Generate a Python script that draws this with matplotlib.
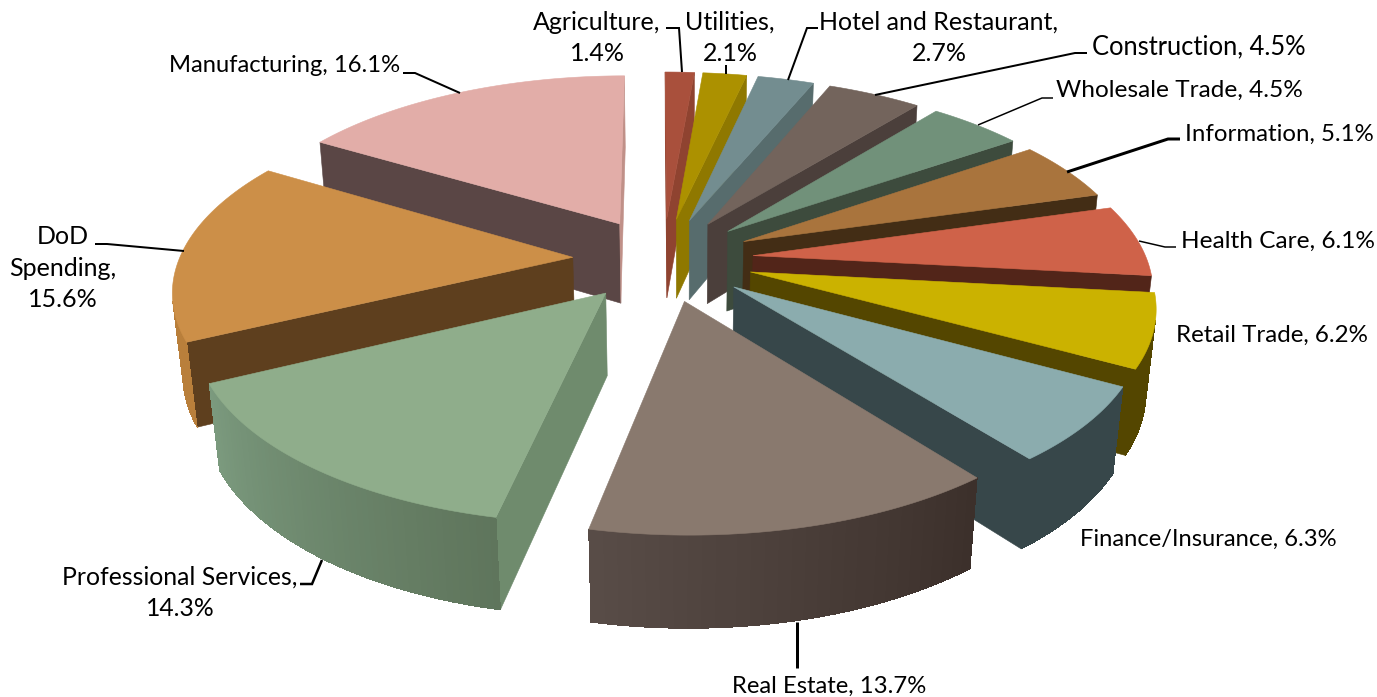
import numpy as np
import matplotlib
matplotlib.use('Agg')
import matplotlib.pyplot as plt
from matplotlib.colors import to_rgb
from matplotlib.patches import Polygon

plt.rcParams['font.family'] = ['Lato', 'DejaVu Sans']

labels = ['Agriculture,\n1.4%', 'Utilities,\n2.1%', 'Hotel and Restaurant,\n2.7%', 'Construction, 4.5%',
          'Wholesale Trade, 4.5%', 'Information, 5.1%', 'Health Care, 6.1%', 'Retail Trade, 6.2%',
          'Finance/Insurance, 6.3%', 'Real Estate, 13.7%', 'Professional Services,\n14.3%',
          'DoD\nSpending,\n15.6%', 'Manufacturing, 16.1%']
shares = [1.4, 2.1, 2.7, 4.5, 4.5, 5.1, 6.1, 6.2, 6.3, 13.7, 14.3, 15.6, 16.1]
top_colors = ['#A9503C', '#AC9100', '#738D90', '#73645C', '#71917A', '#A9743D', '#CF6249',
              '#CBB200', '#8BACAE', '#89796E', '#8FAD8B', '#CC8F48', '#E2ADA8']
cut_start = ['#8F4330', '#8F7800', '#576C6D', '#4B3F3B', '#3D4B3D', '#432D15', '#522519',
             '#544600', '#37474A', '#3C302B', '#6F8B6D', '#5E3F1E', '#5A4645']
cut_end = ['#8F4330', '#8F7800', '#576C6D', '#4B3F3B', '#3D4B3D', '#432D15', '#522519',
           '#544600', '#37474A', '#3C302B', '#6F8B6D', '#5E3F1E', '#C09088']
rim_start = ['#8F4330', '#8F7800', '#576C6D', '#4B3F3B', '#3D4B3D', '#432D15', '#522519',
             '#544600', '#37474A', '#3C302B', '#5F755C', '#B97F3B', '#C09088']
rim_end = ['#8F4330', '#8F7800', '#576C6D', '#4B3F3B', '#3D4B3D', '#432D15', '#522519',
           '#544600', '#37474A', '#584C47', '#7B9A7E', '#B97F3B', '#C09088']
draw_order = [0, 1, 2, 3, 4, 5, 6, 12, 11, 7, 8, 10, 9]

# where each label sits: x, y, alignment, size
label_x = [597, 730, 939, 1092, 1056, 1185, 1181, 1176, 1080, 732, 180, 63, 169]
label_y = [38, 38, 38, 47, 90, 134, 241, 335, 539, 686, 592.5, 268, 66]
label_ha = ['center', 'center', 'center', 'left', 'left', 'left', 'left', 'left', 'left', 'left',
            'center', 'center', 'left']
label_size = [18, 18, 18, 18.4, 17.6, 17.3, 17.6, 17.4, 17.1, 17.2, 17.8, 18, 17.1]
leaders = [([666, 679, 682], [28, 28, 72], 2), ([726, 726], [65, 74], 2),
           ([818, 807, 788], [28, 28, 80], 2), ([1087, 1075, 875], [53, 53, 95], 2),
           ([1053, 1042, 978], [98, 98, 125], 1.5), ([1180, 1168, 1067], [139, 139, 172], 3),
           ([1176, 1165, 1139], [247, 247, 241], 1.5), ([797, 797], [622, 668], 3),
           ([300, 312, 322], [584, 584, 560], 2.5), ([95, 107, 184], [244, 244, 251], 2),
           ([403, 415, 460], [73, 73, 93], 2)]

# plane -> picture projection, fitted to the reference corners
H = [388.961072, -120.612103, 663.091312, 5.790606, 140.680499, 259.181874, -0.006511, -0.158055]
Z = [13.911732, 88.014685, 0.020548]
explode = 0.23
rot = -0.04363


def project(u, v, z):
    d = H[6]*u + H[7]*v + 1 + Z[2]*z
    return (H[0]*u + H[1]*v + H[2] + Z[0]*z)/d, (H[3]*u + H[4]*v + H[5] + Z[1]*z)/d


def area(x, y):
    return np.sum(x*np.roll(y, -1) - np.roll(x, -1)*y)


def draw_wall(ax, us, vs, color, smooth=True):
    # us, vs run along the top edge of the wall
    x0, y0 = project(us, vs, 0)
    x1, y1 = project(us, vs, 1)
    xs = np.r_[x0, x1[::-1]]
    ys = np.r_[y0, y1[::-1]]
    if area(xs, ys) < 0:
        ax.add_patch(Polygon(np.c_[xs, ys], fc=color, ec=color, lw=0.4 if smooth else 0, antialiased=smooth))


def draw_slice(ax, i, edges):
    a0, a1 = edges[i] + rot, edges[i+1] + rot
    mid = (a0 + a1)/2
    cu, cv = explode*np.sin(mid), -explode*np.cos(mid)
    t = np.linspace(a0, a1, 61)
    us = cu + np.sin(t)
    vs = cv - np.cos(t)
    draw_wall(ax, np.array([cu, us[0]]), np.array([cv, vs[0]]), cut_start[i])
    draw_wall(ax, np.array([us[-1], cu]), np.array([vs[-1], cv]), cut_end[i])
    c0, c1 = np.array(to_rgb(rim_start[i])), np.array(to_rgb(rim_end[i]))
    for j in range(len(t) - 1):
        col = c0 + (c1 - c0)*(j/(len(t) - 2))
        # overlap the next strip so no seams show
        draw_wall(ax, us[j:j+3], vs[j:j+3], tuple(col), smooth=False)
    x, y = project(np.r_[cu, us], np.r_[cv, vs], 0)
    ax.add_patch(Polygon(np.c_[x, y], fc=top_colors[i], ec=top_colors[i], lw=0.4))


fig = plt.figure(figsize=(13.77, 6.97), dpi=100)
ax = fig.add_axes([0, 0, 1, 1])
ax.set_xlim(0, 1377)
ax.set_ylim(697, 0)
ax.axis('off')

fractions = np.array(shares)/sum(shares)
edges = np.r_[0, np.cumsum(fractions)]*2*np.pi
for i in draw_order:
    draw_slice(ax, i, edges)

for lx, ly, lw in leaders:
    ax.plot(lx, ly, color='black', lw=lw*0.72, solid_joinstyle='miter', solid_capstyle='butt')
for name, x, y, ha, size in zip(labels, label_x, label_y, label_ha, label_size):
    ax.text(x, y, name, ha=ha, va='center', multialignment='center', fontsize=size, color='black',
            linespacing=1.43)

fig.savefig('out.png', dpi=100)
